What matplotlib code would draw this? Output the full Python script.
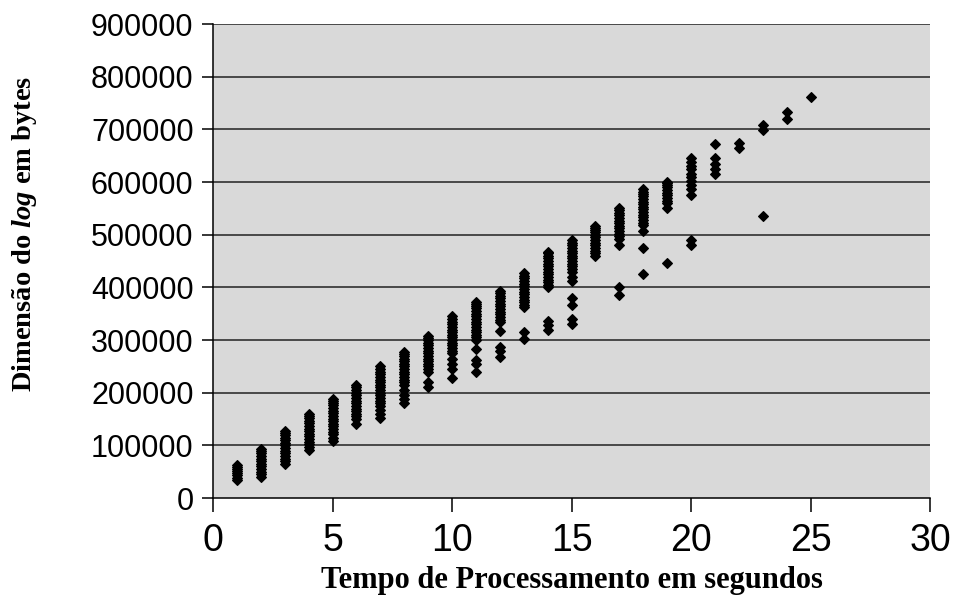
import matplotlib
matplotlib.use("Agg")
import matplotlib.pyplot as plt

# processing time (s) and log size (thousands of bytes) per column
col_01 = [35, 39, 43, 47, 51, 55, 59, 62]
col_02 = [40, 45, 50, 55, 60, 65, 70, 75, 80, 85, 90, 93]
col_03 = [65, 70, 75, 80, 85, 90, 95, 100, 105, 110, 115, 120, 124, 127]
col_04 = [92, 97, 102, 107, 112, 117, 122, 127, 132, 137, 142, 147, 152, 156, 159]
col_05 = [108, 115, 122, 126, 131, 136, 141, 146, 151, 156, 161, 166, 171, 176, 181, 185, 188]
col_06 = [140, 150, 155, 160, 165, 170, 175, 180, 185, 190, 195, 200, 205, 210, 214]
col_07 = [152, 160, 168, 175, 180, 185, 190, 195, 200, 205, 210, 215, 220, 225, 230, 235,
          240, 245, 250]
col_08 = [180, 188, 195, 205, 215, 220, 225, 230, 235, 240, 245, 250, 255, 260, 265, 270,
          274, 277]
col_09 = [211, 220, 240, 245, 250, 255, 260, 265, 270, 275, 280, 285, 290, 295, 300, 304,
          307]
col_10 = [228, 245, 255, 265, 275, 280, 285, 290, 295, 300, 305, 310, 315, 320, 325, 330,
          335, 340, 345]
col_11 = [240, 255, 262, 283, 300, 305, 310, 315, 320, 325, 330, 335, 340, 345, 350, 355,
          360, 365, 369, 372]
col_12 = [268, 280, 286, 317, 334, 339, 344, 349, 354, 359, 364, 369, 374, 379, 384, 389,
          394]
col_13 = [302, 315, 362, 367, 372, 377, 382, 387, 392, 397, 402, 407, 412, 417, 422, 428]
col_14 = [320, 328, 337, 400, 405, 410, 415, 420, 425, 430, 435, 440, 445, 450, 455, 460,
          465, 468]
col_15 = [330, 340, 366, 380, 412, 420, 430, 435, 440, 445, 450, 455, 460, 465, 470, 475,
          480, 485, 490]
col_16 = [460, 465, 470, 475, 480, 485, 490, 495, 500, 505, 510, 513, 516]
col_17 = [386, 400, 480, 492, 497, 502, 507, 512, 517, 522, 527, 532, 537, 542, 547, 551]
col_18 = [425, 474, 508, 518, 523, 528, 533, 538, 543, 548, 553, 558, 563, 568, 573, 578,
          582, 586]
col_19 = [446, 550, 560, 565, 570, 575, 580, 585, 590, 595, 598, 601]
col_20 = [481, 490, 576, 586, 595, 603, 609, 616, 624, 630, 638, 645]
col_21 = [616, 624, 635, 645, 672]
col_22 = [665, 675]
col_23 = [536, 699, 708]
col_24 = [720, 734]
col_25 = [762]

columns = [col_01, col_02, col_03, col_04, col_05, col_06, col_07, col_08, col_09, col_10,
           col_11, col_12, col_13, col_14, col_15, col_16, col_17, col_18, col_19, col_20,
           col_21, col_22, col_23, col_24, col_25]

tempo = []
tamanho = []
for sec, vals in enumerate(columns, start=1):
    for v in vals:
        tempo.append(sec)
        tamanho.append(v * 1000)

plt.rcParams["mathtext.fontset"] = "custom"
plt.rcParams["mathtext.it"] = "Liberation Serif:italic:bold"
plt.rcParams["mathtext.rm"] = "Liberation Serif:bold"

fig = plt.figure(figsize=(9.57, 6.03), dpi=100)
ax = fig.add_axes([0.2226, 0.174, 0.7492, 0.786])

ax.set_facecolor("#d9d9d9")
ax.plot(tempo, tamanho, linestyle="none", marker="D", markersize=5.4,
        color="black", markeredgewidth=0.8)

ax.set_xlim(0, 30)
ax.set_ylim(0, 900000)
ax.set_xticks(range(0, 31, 5))
ax.set_yticks(range(0, 900001, 100000))

for yv in range(100000, 900001, 100000):
    ax.axhline(yv, color="#222222", linewidth=1.1, zorder=1)

ax.spines["top"].set_visible(False)
ax.spines["right"].set_visible(False)
ax.spines["left"].set_linewidth(1.1)
ax.spines["bottom"].set_linewidth(1.1)

ax.tick_params(axis="x", length=10, width=1.1, pad=8, labelsize=27)
ax.tick_params(axis="y", length=8, width=1.1, pad=6, labelsize=22)
for lbl in ax.get_xticklabels() + ax.get_yticklabels():
    lbl.set_family("Liberation Sans")

ax.set_xlabel("Tempo de Processamento em segundos", family="Liberation Serif",
              fontweight="bold", fontsize=22, labelpad=5)
fig.text(0.026, 0.613, r"Dimensão do $\mathit{log}$ em bytes", family="Liberation Serif",
         fontweight="bold", fontsize=20.5, rotation=90, ha="center", va="center")

fig.savefig("out.png", dpi=100)
